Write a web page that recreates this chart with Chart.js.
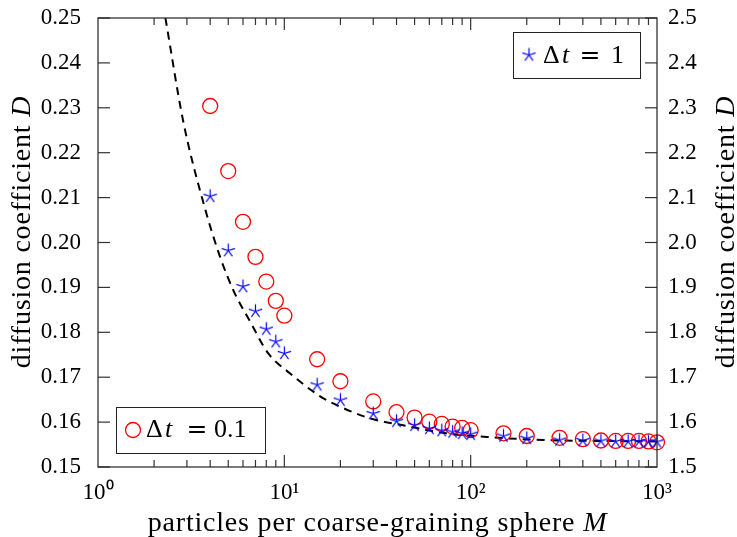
<!DOCTYPE html>
<html><head><meta charset="utf-8">
<script src="https://cdn.jsdelivr.net/npm/chart.js@4/dist/chart.umd.min.js"></script>
<style>html,body{margin:0;padding:0;background:#fff;overflow:hidden}#wrap{width:737px;height:537px}</style>
</head><body><div id="wrap"><canvas id="c" width="737" height="537"></canvas></div>
<script>
// ---- data ----
const particlesM = [4,5,6,7,8,9,10,15,20,30,40,50,60,70,80,90,100,150,200,300,400,500,600,700,800,900,1000];
const diffusionDt1 = [0.2103,0.1982,0.1902,0.1847,0.1807,0.1779,0.1753,0.1683,0.1649,0.1619,0.1602,0.1593,0.1586,0.1581,0.1578,0.1575,0.1573,0.1569,0.1564,0.1560,0.1559,0.1558,0.1557,0.1557,0.1557,0.1556,0.1556];
const diffusionDt01 = [2.304,2.159,2.046,1.968,1.913,1.870,1.837,1.740,1.691,1.646,1.622,1.610,1.601,1.596,1.590,1.587,1.582,1.575,1.569,1.565,1.562,1.559,1.558,1.558,1.558,1.557,1.555];
const fitM = [2.3,2.87,3.75,4.52,5.32,6.55,8.2,10.7,15.5,20,29,42,74,122,245,500,1000];
const fitD = [0.2500,0.2269,0.2076,0.1968,0.1894,0.1824,0.1753,0.1709,0.1658,0.1634,0.1608,0.1594,0.1575,0.1567,0.1560,0.1558,0.1557];
const xTickValues = [1,10,100,1000];
const xTickLabels = ['10\u2070','10\u00B9','10\u00B2','10\u00B3'];
const leftTickValues = [0.15,0.16,0.17,0.18,0.19,0.20,0.21,0.22,0.23,0.24,0.25];
const rightTickValues = [1.5,1.6,1.7,1.8,1.9,2.0,2.1,2.2,2.3,2.4,2.5];
const legendDt1 = ['\u0394','t','=','1'];
const legendDt01 = ['\u0394','t','=','0.1'];
const yTitle = ['diffusion coefficient ','D'];
const xTitle = ['particles per coarse-graining sphere ','M'];

const SERIF = "'Liberation Serif', 'Times New Roman', serif";
const BLUE = '#0000ff', RED = '#ff0000';

function makeStar(r, color, lw) {
  const s = 2 * Math.ceil(r + lw) + 1;
  const c = document.createElement('canvas');
  c.width = s; c.height = s;
  const g = c.getContext('2d');
  g.strokeStyle = color; g.lineWidth = lw;
  g.beginPath();
  for (let i = 0; i < 5; i++) {
    const a = -Math.PI / 2 + i * 2 * Math.PI / 5;
    g.moveTo(s / 2, s / 2);
    g.lineTo(s / 2 + r * Math.cos(a), s / 2 + r * Math.sin(a));
  }
  g.stroke();
  return c;
}
const starImg = makeStar(7, BLUE, 1.2);

const decor = {
  id: 'decor',
  afterDatasetsDraw(chart) {
    const {ctx, chartArea: a, scales} = chart;
    ctx.save();
    ctx.strokeStyle = '#333';
    ctx.lineWidth = 1.2;
    const ln = (x1, y1, x2, y2) => { ctx.beginPath(); ctx.moveTo(x1, y1); ctx.lineTo(x2, y2); ctx.stroke(); };
    for (let d = 1; d < 1000; d *= 10) {
      for (let k = 1; k <= 9; k++) {
        const v = d * k;
        if (v <= 1) continue;
        const px = scales.x.getPixelForValue(v);
        const len = k === 1 ? 12 : 7;
        ln(px, a.bottom, px, a.bottom - len);
        ln(px, a.top, px, a.top + len);
      }
    }
    leftTickValues.forEach(v => { const py = scales.y.getPixelForValue(v); ln(a.left, py, a.left + 12, py); });
    rightTickValues.forEach(v => { const py = scales.y2.getPixelForValue(v); ln(a.right, py, a.right - 12, py); });
    ctx.strokeStyle = '#222';
    ctx.strokeRect(a.left, a.top, a.right - a.left, a.bottom - a.top);
    ctx.restore();
  },
  afterDraw(chart) {
    const {ctx, chartArea: a} = chart;
    ctx.save();
    ctx.fillStyle = '#000';
    ctx.textBaseline = 'alphabetic';
    // axis titles with italic symbol
    const titleFont = '28px ' + SERIF, titleIt = 'italic 28px ' + SERIF;
    function mixed(parts, cx, by) {
      ctx.letterSpacing = '0.8px';
      ctx.font = titleFont; const w0 = ctx.measureText(parts[0]).width;
      ctx.font = titleIt; const w1 = ctx.measureText(parts[1]).width;
      const x0 = cx - (w0 + w1) / 2;
      ctx.font = titleFont; ctx.textAlign = 'left'; ctx.fillText(parts[0], x0, by);
      ctx.font = titleIt; ctx.fillText(parts[1], x0 + w0, by);
      ctx.letterSpacing = '0px';
    }
    mixed(xTitle, (a.left + a.right) / 2, 531);
    ctx.save(); ctx.translate(30, 232); ctx.rotate(-Math.PI / 2); mixed(yTitle, 0, 0); ctx.restore();
    ctx.save(); ctx.translate(734, 232); ctx.rotate(-Math.PI / 2); mixed(yTitle, 0, 0); ctx.restore();

    // legend boxes
    function legend(box, marker, mx, my, parts, pos, by) {
      ctx.fillStyle = '#fff';
      ctx.fillRect(box[0], box[1], box[2], box[3]);
      ctx.strokeStyle = '#222'; ctx.lineWidth = 1;
      ctx.strokeRect(box[0] + 0.5, box[1] + 0.5, box[2], box[3]);
      if (marker === 'star') {
        Chart.helpers.drawPoint(ctx, {pointStyle: starImg, radius: 7, rotation: 0}, mx, my);
      } else {
        ctx.strokeStyle = RED; ctx.lineWidth = 1.3;
        ctx.beginPath(); ctx.arc(mx, my, 7.5, 0, Math.PI * 2); ctx.stroke();
      }
      ctx.fillStyle = '#000';
      const f = '26px ' + SERIF, fi = 'italic 26px ' + SERIF;
      ctx.textAlign = 'left';
      ctx.font = f; ctx.fillText(parts[0], pos[0], by);
      ctx.font = fi; ctx.fillText(parts[1], pos[1], by);
      ctx.font = "25px 'DejaVu Serif', serif"; ctx.textAlign = 'center'; ctx.fillText(parts[2], pos[2], by);
      ctx.font = f; ctx.textAlign = 'left'; ctx.fillText(parts[3], pos[3], by);
    }
    legend([513, 32, 127, 46], 'star', 529, 55, legendDt1, [543, 562, 590, 611], 63);
    legend([116, 407, 149, 46], 'circle', 133, 430, legendDt01, [146, 165, 197, 214], 437);
    ctx.restore();
  }
};

const toXY = (xs, ys) => xs.map((x, i) => ({x: x, y: ys[i]}));
const noPadY = s => { s.paddingTop = 0; s.paddingBottom = 0; };

new Chart(document.getElementById('c'), {
  type: 'scatter',
  data: {
    datasets: [
      {
        label: '\u0394t = 1',
        data: toXY(particlesM, diffusionDt1),
        yAxisID: 'y',
        pointStyle: starImg,
        pointRadius: 7,
        borderColor: BLUE,
        backgroundColor: BLUE,
        clip: false,
        order: 1
      },
      {
        label: '\u0394t = 0.1',
        data: toXY(particlesM, diffusionDt01),
        yAxisID: 'y2',
        pointStyle: 'circle',
        pointRadius: 7.5,
        borderWidth: 1.3,
        borderColor: RED,
        backgroundColor: 'rgba(0,0,0,0)',
        clip: false,
        order: 2
      },
      {
        label: 'fit',
        data: toXY(fitM, fitD),
        yAxisID: 'y',
        showLine: true,
        pointRadius: 0,
        borderColor: '#000',
        borderWidth: 2,
        borderDash: [8, 6],
        cubicInterpolationMode: 'monotone',
        fill: false,
        order: 3
      }
    ]
  },
  options: {
    responsive: false,
    animation: false,
    devicePixelRatio: 1,
    layout: {padding: {top: 18, left: 0, right: 0, bottom: 0}},
    plugins: {legend: {display: false}, tooltip: {enabled: false}},
    scales: {
      x: {
        type: 'logarithmic', position: 'bottom', min: 1, max: 1000,
        afterBuildTicks: s => { s.ticks = xTickValues.map(v => ({value: v})); },
        afterFit: s => { s.height = 70; s.paddingLeft = 0; s.paddingRight = 0; },
        grid: {display: false, drawTicks: false},
        border: {display: false},
        ticks: {
          autoSkip: false, maxRotation: 0, padding: 12, color: '#000',
          font: {family: SERIF, size: 23},
          callback: v => { const i = xTickValues.indexOf(v); return i >= 0 ? xTickLabels[i] : ''; }
        }
      },
      y: {
        type: 'linear', position: 'left', min: 0.15, max: 0.25,
        afterBuildTicks: s => { s.ticks = leftTickValues.map(v => ({value: v})); },
        afterFit: s => { s.width = 98; noPadY(s); },
        grid: {display: false, drawTicks: false},
        border: {display: false},
        ticks: {padding: 17, color: '#000', font: {family: SERIF, size: 23}, callback: v => v.toFixed(2)}
      },
      y2: {
        type: 'linear', position: 'right', min: 1.5, max: 2.5,
        afterBuildTicks: s => { s.ticks = rightTickValues.map(v => ({value: v})); },
        afterFit: s => { s.width = 80; noPadY(s); },
        grid: {display: false, drawTicks: false},
        border: {display: false},
        ticks: {padding: 11, color: '#000', font: {family: SERIF, size: 23}, callback: v => v.toFixed(1)}
      }
    }
  },
  plugins: [decor]
});
</script>
</body></html>
